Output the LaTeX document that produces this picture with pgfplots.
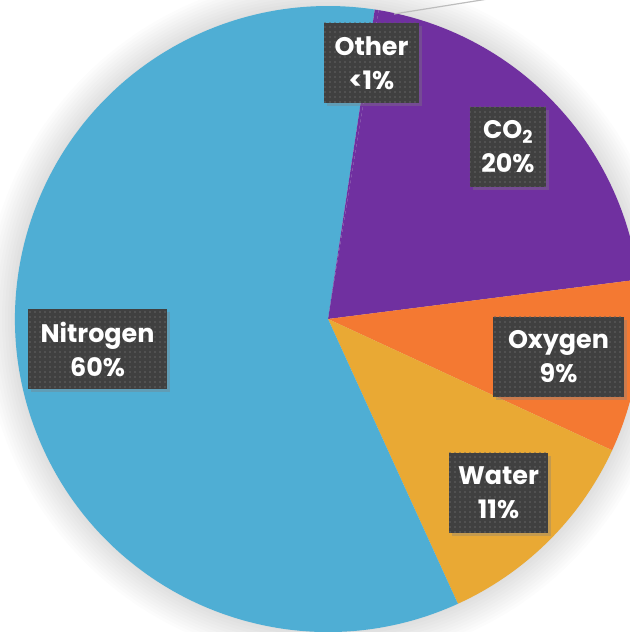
\documentclass[border=0pt]{standalone}
\usepackage{pgfplots}
\pgfplotsset{compat=1.18}
\usepackage{pgfplotstable}
\usepackage{fontspec}
\setmainfont{Poppins}
\usetikzlibrary{shadows,patterns.meta}

\definecolor{cNitrogen}{RGB}{79,174,212}
\definecolor{cCO}{RGB}{112,48,160}
\definecolor{cOxygen}{RGB}{244,121,50}
\definecolor{cWater}{RGB}{233,169,52}
\definecolor{cOther}{RGB}{112,48,160}
\definecolor{labelgray}{RGB}{64,64,64}
\definecolor{dotgray}{RGB}{100,100,100}

% slice values, percent, clockwise from the start angle
\pgfplotstableread{
label value
Other 0.2
CO2 20.4
Oxygen 8.9
Water 11.3
Nitrogen 59.2
}\piedata

\begin{document}
\begin{tikzpicture}
\useasboundingbox (0,0) rectangle (630bp,632bp);
\clip (0,0) rectangle (630bp,632bp);
% soft glow around the pie
\foreach \r in {314,317,...,344} {\fill[black, opacity=0.012] (328bp,313bp) circle[radius=\r bp];}
\def\startang{81.4}
\def\R{313bp}
\pgfplotstablegetelem{0}{value}\of\piedata \let\vOther\pgfplotsretval
\pgfplotstablegetelem{1}{value}\of\piedata \let\vCO\pgfplotsretval
\pgfplotstablegetelem{2}{value}\of\piedata \let\vOxygen\pgfplotsretval
\pgfplotstablegetelem{3}{value}\of\piedata \let\vWater\pgfplotsretval
\pgfplotstablegetelem{4}{value}\of\piedata \let\vNitrogen\pgfplotsretval
\pgfmathsetmacro\aA{\startang}
\pgfmathsetmacro\aB{\aA-3.6*\vOther}
\pgfmathsetmacro\aC{\aB-3.6*\vCO}
\pgfmathsetmacro\aD{\aC-3.6*\vOxygen}
\pgfmathsetmacro\aE{\aD-3.6*\vWater}
\pgfmathsetmacro\aF{\aE-3.6*\vNitrogen}
\begin{axis}[at={(0,0)}, anchor=south west, scale only axis,
  width=630bp, height=632bp,
  xmin=-328, xmax=302, ymin=-313, ymax=319,
  hide axis, clip=false]
\fill[cCO] (axis cs:0,0) -- ([shift={(axis cs:0,0)}]\aB:\R) arc[start angle=\aB, end angle=\aC, radius=\R] -- cycle;
\fill[cOxygen] (axis cs:0,0) -- ([shift={(axis cs:0,0)}]\aC:\R) arc[start angle=\aC, end angle=\aD, radius=\R] -- cycle;
\fill[cWater] (axis cs:0,0) -- ([shift={(axis cs:0,0)}]\aD:\R) arc[start angle=\aD, end angle=\aE, radius=\R] -- cycle;
\fill[cNitrogen] (axis cs:0,0) -- ([shift={(axis cs:0,0)}]\aE:\R) arc[start angle=\aE, end angle=\aF, radius=\R] -- cycle;
\fill[cOther] (axis cs:0,0) -- ([shift={(axis cs:0,0)}]\aA:\R) arc[start angle=\aA, end angle=\aB, radius=\R] -- cycle;
\draw[black!26, line width=1.2bp] (axis cs:66,305) -- (axis cs:185,324);
\tikzset{lbl/.style={drop shadow={opacity=0.35, shadow xshift=3bp, shadow yshift=-3bp},
  preaction={fill=labelgray}, pattern={Dots[distance=5bp, radius=0.8bp]}, pattern color=dotgray,
  text=white, align=center, inner sep=0pt, minimum height=80bp,
  font=\fontsize{25.5}{34}\selectfont\bfseries}}
\node[lbl, minimum width=95bp] at (axis cs:43.5,256) {Other\\<1\%};
\node[lbl, minimum width=76bp] at (axis cs:180,172) {CO\textsubscript{2}\\20\%};
\node[lbl, minimum width=139bp] at (axis cs:-230.5,-30.5) {Nitrogen\\60\%};
\node[lbl, minimum width=99bp] at (axis cs:170.5,-174) {Water\\11\%};
\node[lbl, minimum width=131bp] at (axis cs:230.5,-38) {Oxygen\\9\%};
\end{axis}
\end{tikzpicture}
\end{document}
